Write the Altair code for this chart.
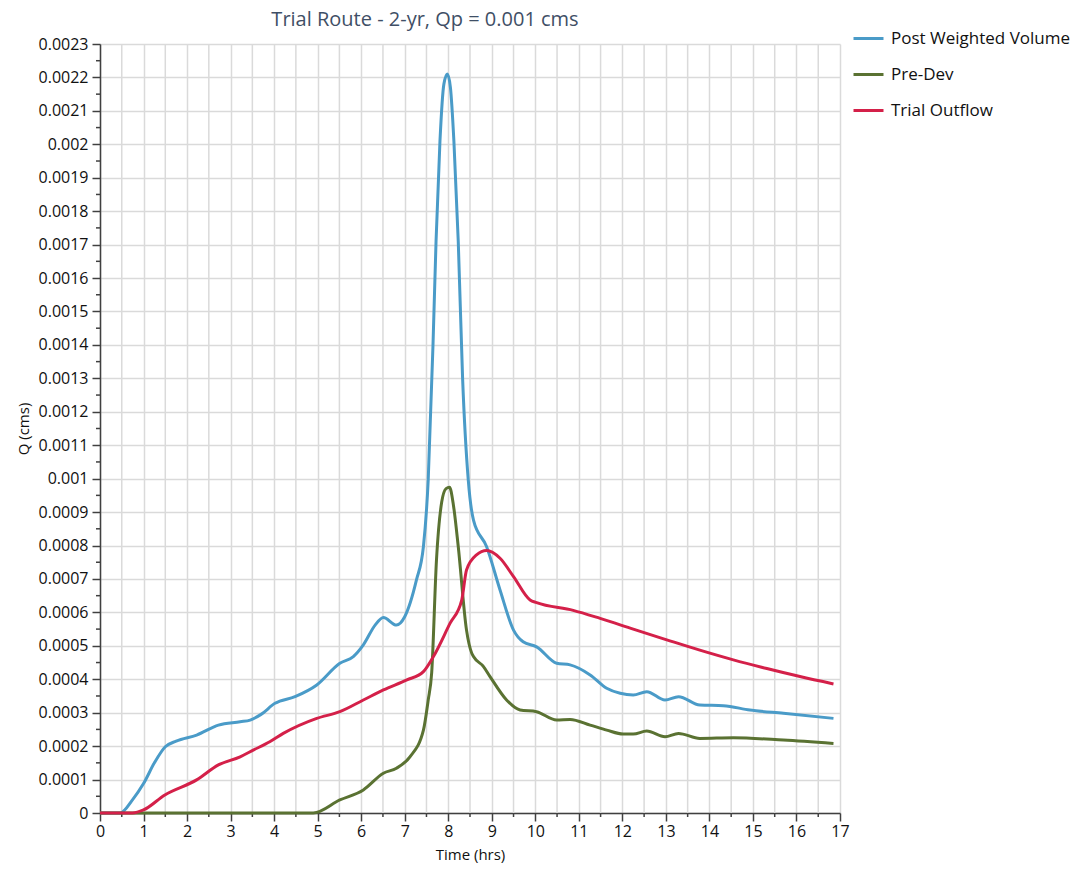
import altair as alt
import pandas as pd

# ---------------- data ----------------
series_names = ["Post Weighted Volume", "Pre-Dev", "Trial Outflow"]
series_colors = ["#4a9bc8", "#5a7232", "#d42049"]

post_t = [0, 0.46, 0.75, 1.0, 1.25, 1.5, 1.75, 2.22, 2.72, 3.22, 3.45, 3.7, 4.02, 4.48,
          4.98, 5.51, 5.82, 6.05, 6.32, 6.51, 6.81, 7.0, 7.27, 7.43, 7.54, 7.65, 7.72,
          7.81, 7.9, 7.98, 8.05, 8.13, 8.23, 8.33, 8.46, 8.58, 8.88, 9.19, 9.5, 9.72,
          10.03, 10.49, 10.8, 11.26, 11.64, 11.95, 12.25, 12.56, 12.98, 13.29, 13.78,
          14.32, 14.93, 15.7, 16.85]
post_q = [0, 0, 0.00004, 0.000088, 0.00015, 0.000198, 0.000215, 0.000233, 0.000263,
          0.000273, 0.000278, 0.000295, 0.000328, 0.000348, 0.000383, 0.000448, 0.000468,
          0.000503, 0.000562, 0.000585, 0.000562, 0.000587, 0.000697, 0.000797, 0.000996,
          0.0014, 0.00171, 0.00201, 0.00218, 0.00221, 0.00217, 0.00201, 0.00171, 0.0013,
          0.000996, 0.000876, 0.000797, 0.000667, 0.000547, 0.000512, 0.000497, 0.000448,
          0.000443, 0.000413, 0.000373, 0.000358, 0.000353, 0.000363, 0.000338, 0.000348,
          0.000323, 0.000321, 0.000308, 0.000298, 0.000283]

pre_t = [0, 4.9, 5.51, 6.05, 6.51, 6.81, 7.12, 7.43, 7.54, 7.62, 7.73, 7.85, 7.95, 8.03,
         8.12, 8.23, 8.42, 8.54, 8.58, 8.81, 8.96, 9.34, 9.65, 10.03, 10.49, 10.8, 11.26,
         11.64, 12.02, 12.25, 12.56, 12.98, 13.29, 13.78, 14.55, 15.7, 16.85]
pre_q = [0, 0, 0.000039, 0.000069, 0.000119, 0.000134, 0.000168, 0.000248, 0.000338,
         0.00042, 0.000757, 0.00093, 0.00097, 0.000974, 0.00092, 0.000797, 0.000547,
         0.000478, 0.000468, 0.000438, 0.000408, 0.000338, 0.000308, 0.000303, 0.000278,
         0.00028, 0.000263, 0.000248, 0.000236, 0.000236, 0.000245, 0.000228, 0.000238,
         0.000223, 0.000225, 0.000218, 0.000208]

out_t = [0, 0.75, 1.0, 1.49, 2.22, 2.72, 3.22, 3.52, 3.9, 4.21, 4.98, 5.51, 6.05, 6.51,
         7.05, 7.43, 7.66, 8.04, 8.31, 8.42, 8.65, 8.88, 9.19, 9.5, 9.88, 10.03,
         10.87, 11.49, 12.25, 13.02, 13.78, 14.55, 15.32, 16.08, 16.85]
out_q = [0, 0, 0.000009, 0.000054, 0.000099, 0.000144, 0.000168, 0.000188, 0.000213,
         0.000238, 0.000283, 0.000303, 0.000338, 0.000368, 0.000398, 0.000423, 0.000468,
         0.000567, 0.000637, 0.000727, 0.000772, 0.000785, 0.000762, 0.000707,
         0.000637, 0.000629, 0.000606, 0.000582, 0.00055, 0.000518, 0.000487, 0.000458,
         0.000432, 0.000408, 0.000386]

x_major = list(range(0, 18))
x_half = [i + 0.5 for i in range(17)]
y_major = [round(i * 0.0001, 4) for i in range(24)]
y_minor = [round(0.00005 + 0.0001 * i, 5) for i in range(23)]

title_text = "Trial Route - 2-yr, Qp = 0.001 cms"
x_title = "Time (hrs)"
y_title = "Q (cms)"

# ---------------- build tables ----------------
rows = []
for name, ts, qs in [(series_names[0], post_t, post_q),
                     (series_names[1], pre_t, pre_q),
                     (series_names[2], out_t, out_q)]:
    for t, q in zip(ts, qs):
        rows.append({"Time": t, "Q": q, "Series": name})
df = pd.DataFrame(rows)
half_df = pd.DataFrame({"Time": x_half})
yminor_df = pd.DataFrame({"Q": y_minor})

W, H = 740, 769
FONT = "Open Sans"
AXC = "#404040"
GRID = "#dadada"

xs = alt.Scale(domain=[0, 17], nice=False, zero=False)
ys = alt.Scale(domain=[0, 0.0023], nice=False, zero=False)

x_axis = alt.Axis(values=x_major, format="d", title=x_title, grid=True, gridColor=GRID,
                  gridWidth=1.5, tickSize=8, tickColor=AXC, tickWidth=1.5,
                  domainColor=AXC, domainWidth=1.5, labelFontSize=16, labelColor="#111",
                  labelFont=FONT, labelPadding=2, titleFont=FONT, titleFontSize=15,
                  titleFontWeight="normal", titleColor="#111", titlePadding=8,
                  labelFlush=False)
y_axis = alt.Axis(values=y_major, format="~g", title=y_title, grid=True, gridColor=GRID,
                  gridWidth=1.5, tickSize=8, tickColor=AXC, tickWidth=1.5,
                  domainColor=AXC, domainWidth=1.5, labelFontSize=16, labelColor="#111",
                  labelFont=FONT, labelPadding=4, titleFont=FONT, titleFontSize=15,
                  titleFontWeight="normal", titleColor="#111", titlePadding=7,
                  labelFlush=False)

X = alt.X("Time:Q", scale=xs, axis=x_axis)
Y = alt.Y("Q:Q", scale=ys, axis=y_axis)

grid_half = alt.Chart(half_df).mark_rule(color=GRID, strokeWidth=1.5).encode(
    x=X, y=alt.value(0), y2=alt.value(H))
x_minor_ticks = alt.Chart(half_df).mark_rule(color=AXC, strokeWidth=1.5).encode(
    x=X, y=alt.value(H), y2=alt.value(H + 4))
y_minor_ticks = alt.Chart(yminor_df).mark_rule(color=AXC, strokeWidth=1.5).encode(
    y=Y, x=alt.value(-4), x2=alt.value(0))

lines = alt.Chart(df).mark_line(strokeWidth=3, interpolate="monotone").encode(
    x=X, y=Y,
    color=alt.Color("Series:N",
                    scale=alt.Scale(domain=series_names, range=series_colors),
                    legend=alt.Legend(title=None, orient="none", legendX=752, legendY=-22,
                                      symbolType="stroke", symbolSize=900,
                                      symbolStrokeWidth=3, labelFontSize=17,
                                      labelFont=FONT, labelColor="#111", labelOffset=6,
                                      labelLimit=400, rowPadding=11)),
)

chart = alt.layer(grid_half, x_minor_ticks, y_minor_ticks, lines).properties(
    width=W, height=H,
    title=alt.TitleParams(title_text, fontSize=20, font=FONT, fontWeight="normal",
                          color="#3f4f66", dx=-45, offset=-8),
    autosize=alt.AutoSizeParams(type="none"),
    padding={"left": 100, "top": 44, "right": 235, "bottom": 59},
).configure_view(stroke=None)

chart.save("out.html", embed_options={"renderer": "svg", "actions": False})
